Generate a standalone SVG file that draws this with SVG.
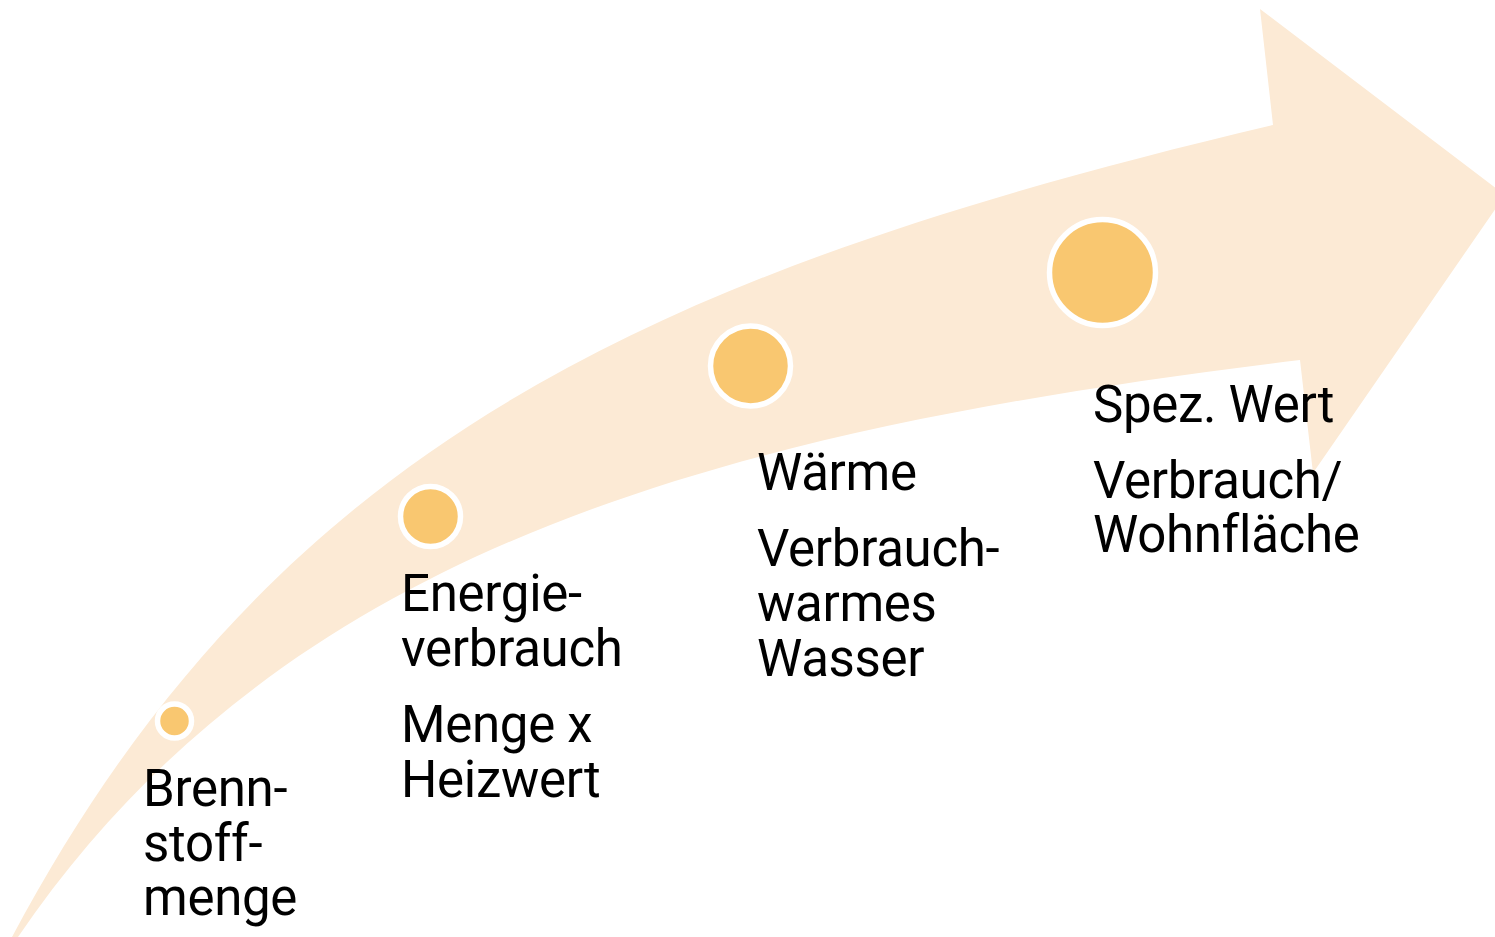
<svg xmlns="http://www.w3.org/2000/svg" width="1495" height="937" viewBox="0 0 1495 937">
<style>
.lbl{font-family:Roboto,"Liberation Sans",sans-serif;font-size:51px;fill:#000;letter-spacing:-0.3px}
.dot{fill:#F9C770;stroke:#fff;stroke-width:5.5}
</style>
<rect width="1495" height="937" fill="#fff"/>
<g id="arrow">
<path d="M12,937 C271,451 642,274 1273,125 L1260,9 L1505,195 L1313,473 L1300,360 C734,429 288,541 18,937 Z" fill="#FCEAD5"/>
</g>
<g id="node1">
<circle class="dot" cx="174.5" cy="721" r="17"/>
<text class="lbl" x="143" y="806">Brenn-</text>
<text class="lbl" x="143" y="861">stoff-</text>
<text class="lbl" x="143" y="915">menge</text>
</g>
<g id="node2">
<circle class="dot" cx="430.5" cy="516.5" r="30"/>
<text class="lbl" x="401" y="611">Energie-</text>
<text class="lbl" x="401" y="666">verbrauch</text>
<text class="lbl" x="401" y="742">Menge x</text>
<text class="lbl" x="401" y="797">Heizwert</text>
</g>
<g id="node3">
<circle class="dot" cx="750.5" cy="366" r="40"/>
<text class="lbl" x="757" y="490">Wärme</text>
<text class="lbl" x="757" y="566">Verbrauch-</text>
<text class="lbl" x="757" y="621">warmes</text>
<text class="lbl" x="757" y="676">Wasser</text>
</g>
<g id="node4">
<circle class="dot" cx="1102.5" cy="272.5" r="53"/>
<text class="lbl" x="1093" y="422">Spez. Wert</text>
<text class="lbl" x="1093" y="498">Verbrauch/</text>
<text class="lbl" x="1093" y="552">Wohnfläche</text>
</g>
<g id="connectors"/>
</svg>
